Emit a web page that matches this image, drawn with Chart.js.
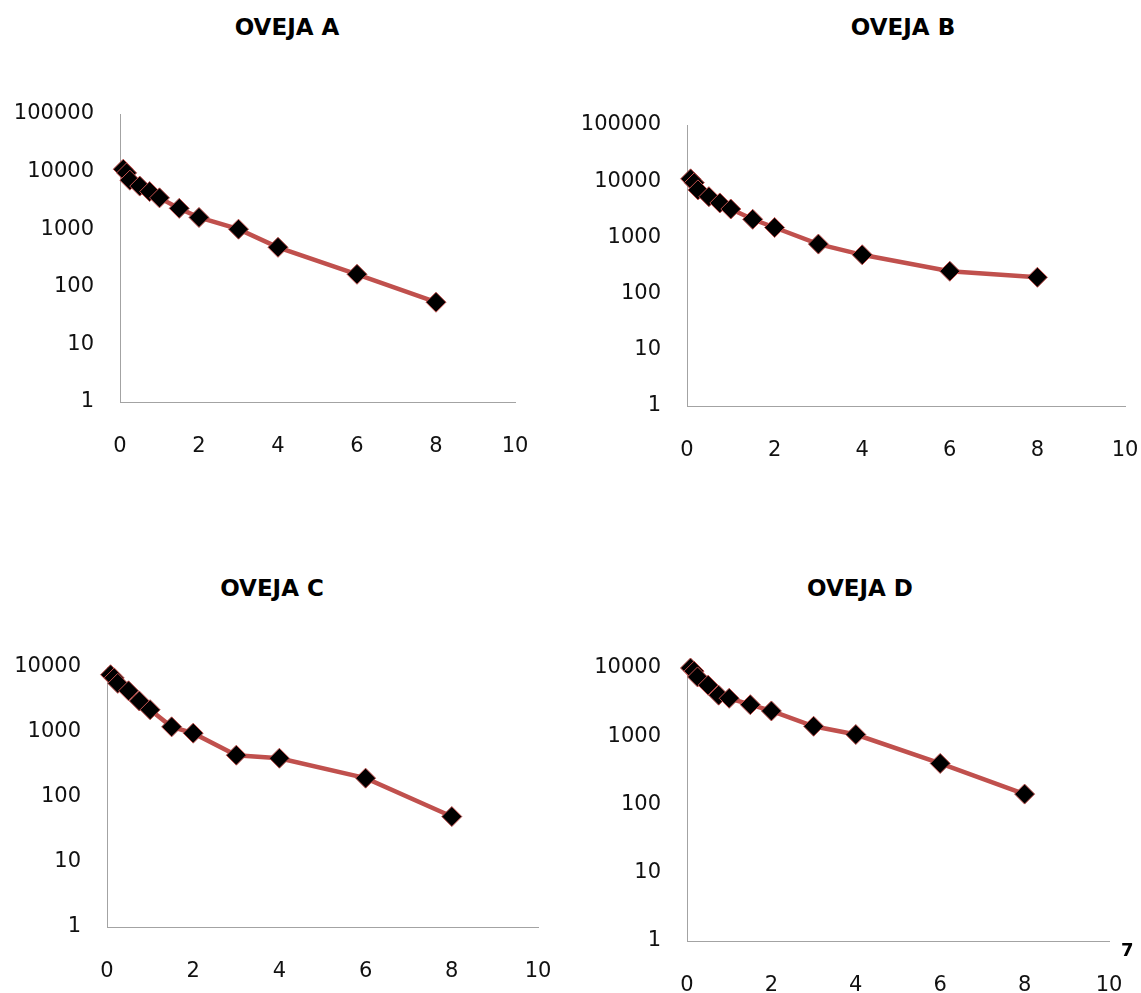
<!DOCTYPE html>
<html>
<head>
<meta charset="utf-8">
<script src="https://cdn.jsdelivr.net/npm/chart.js@4/dist/chart.umd.min.js"></script>
<style>
  body { margin: 0; background: #fff; width: 1141px; height: 993px; overflow: hidden; position: relative; font-family: "DejaVu Sans", sans-serif; }
  .panel { position: absolute; }
  .title { position: absolute; font: bold 23px "DejaVu Sans", sans-serif; line-height: 23px; transform: translateX(-50%); white-space: nowrap; color: #000; }
  .stray { position: absolute; font: bold 18px "DejaVu Sans", sans-serif; line-height: 18px; }
</style>
</head>
<body>
<script>
// Datos: tiempo (h) y concentración por oveja
const times = [0.083, 0.167, 0.25, 0.5, 0.75, 1, 1.5, 2, 3, 4, 6, 8];
const ovejaA = [11000, 9500, 7100, 5600, 4500, 3500, 2300, 1600, 1000, 485, 165, 54];
const ovejaB = [11000, 9400, 7000, 5300, 4100, 3200, 2100, 1500, 760, 490, 250, 195];
const ovejaC = [7600, 6800, 5600, 4300, 3000, 2200, 1200, 960, 440, 395, 195, 50];
const ovejaD = [10000, 9000, 7400, 5600, 4000, 3600, 2900, 2350, 1400, 1060, 400, 142];
const titles = ['OVEJA A', 'OVEJA B', 'OVEJA C', 'OVEJA D'];
const xTicks = [0, 2, 4, 6, 8, 10];
const yTicksTop = [1, 10, 100, 1000, 10000, 100000];
const yTicksBottom = [1, 10, 100, 1000, 10000];

const LINE_RED = '#C0504D';
const AXIS_GREY = '#a3a3a3';
const TICK_FONT = { family: 'DejaVu Sans', size: 21 };

// posición de cada gráfico en la página (canvas + área de trazado)
const panels = [
  { title: titles[0], values: ovejaA, yTicks: yTicksTop, titleX: 287, titleY: 27,
    canvas: { x: 0, y: 80, w: 560, h: 400 }, plot: { left: 120, right: 515, top: 114, bottom: 402 } },
  { title: titles[1], values: ovejaB, yTicks: yTicksTop, titleX: 903, titleY: 27,
    canvas: { x: 570, y: 80, w: 571, h: 400 }, plot: { left: 687, right: 1125, top: 125, bottom: 406 } },
  { title: titles[2], values: ovejaC, yTicks: yTicksBottom, titleX: 272, titleY: 588,
    canvas: { x: 0, y: 620, w: 570, h: 373 }, plot: { left: 107, right: 538, top: 667, bottom: 927 } },
  { title: titles[3], values: ovejaD, yTicks: yTicksBottom, titleX: 860, titleY: 588,
    canvas: { x: 570, y: 620, w: 571, h: 373 }, plot: { left: 687, right: 1109, top: 668, bottom: 941 } }
];

const X_AXIS_H = 50;

panels.forEach(p => {
  const t = document.createElement('div');
  t.className = 'title';
  t.textContent = p.title;
  t.style.left = p.titleX + 'px';
  t.style.top = (p.titleY - 11) + 'px';
  document.body.appendChild(t);

  const wrap = document.createElement('div');
  wrap.className = 'panel';
  wrap.style.left = p.canvas.x + 'px';
  wrap.style.top = p.canvas.y + 'px';
  const cv = document.createElement('canvas');
  cv.width = p.canvas.w;
  cv.height = p.canvas.h;
  cv.style.width = p.canvas.w + 'px';
  cv.style.height = p.canvas.h + 'px';
  wrap.appendChild(cv);
  document.body.appendChild(wrap);

  const yAxisW = p.plot.left - p.canvas.x;
  const padTop = p.plot.top - p.canvas.y;
  const padRight = p.canvas.x + p.canvas.w - p.plot.right;
  const padBottom = p.canvas.y + p.canvas.h - p.plot.bottom - X_AXIS_H;

  new Chart(cv, {
    type: 'line',
    data: {
      datasets: [{
        data: times.map((tm, i) => ({ x: tm, y: p.values[i] })),
        borderColor: LINE_RED,
        borderWidth: 4.5,
        tension: 0,
        pointStyle: 'rectRot',
        pointRadius: 10,
        pointBackgroundColor: '#000',
        pointBorderColor: LINE_RED,
        pointBorderWidth: 1,
        clip: false
      }]
    },
    options: {
      responsive: false,
      animation: false,
      layout: { padding: { top: padTop, right: padRight, bottom: padBottom, left: 0 } },
      plugins: { legend: { display: false }, tooltip: { enabled: false } },
      scales: {
        x: {
          type: 'linear',
          min: 0,
          max: 10,
          afterBuildTicks: s => { s.ticks = xTicks.map(v => ({ value: v })); },
          afterFit: s => { s.height = X_AXIS_H; s.paddingLeft = 0; s.paddingRight = 0; },
          grid: { display: false, drawTicks: false },
          border: { display: true, color: AXIS_GREY, width: 1 },
          ticks: { padding: 32, color: '#111', font: TICK_FONT, maxRotation: 0 }
        },
        y: {
          type: 'logarithmic',
          min: p.yTicks[0],
          max: p.yTicks[p.yTicks.length - 1],
          afterBuildTicks: s => { s.ticks = p.yTicks.map(v => ({ value: v })); },
          afterFit: s => { s.width = yAxisW; s.paddingTop = 0; s.paddingBottom = 0; },
          grid: { display: false, drawTicks: false },
          border: { display: true, color: AXIS_GREY, width: 1 },
          ticks: { padding: 26, color: '#111', font: TICK_FONT, callback: v => String(v) }
        }
      }
    }
  });
});

const stray = document.createElement('div');
stray.className = 'stray';
stray.textContent = '7';
stray.style.left = '1121px';
stray.style.top = '941px';
document.body.appendChild(stray);
</script>
</body>
</html>
